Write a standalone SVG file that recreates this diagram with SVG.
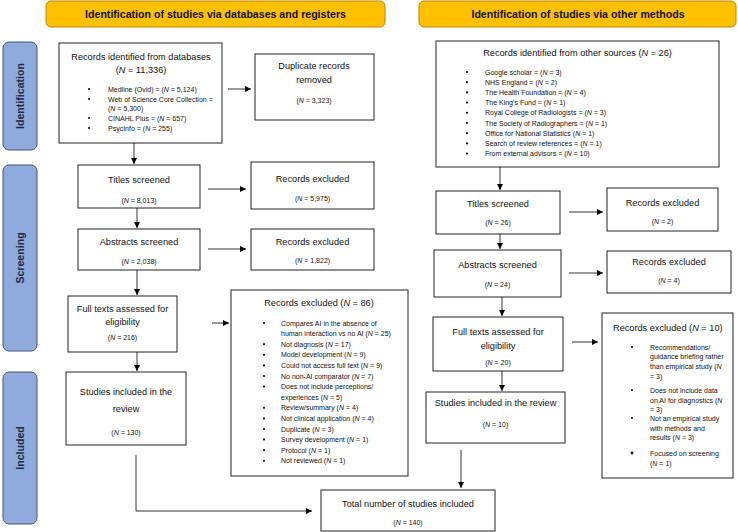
<svg xmlns="http://www.w3.org/2000/svg" width="738" height="532" viewBox="0 0 738 532">
<defs>
<marker id="ah" markerUnits="userSpaceOnUse" markerWidth="7" markerHeight="7" refX="6" refY="3" orient="auto">
<path d="M0,0 L6,3 L0,6 z" fill="#000"/>
</marker>
<style>
.hdr{fill:#FFC000;stroke:#B8860B;stroke-width:1}
.hdrt{font-family:"Liberation Sans",Arial,sans-serif;font-weight:bold;font-size:10.6px;fill:#111;text-anchor:middle}
.ph{fill:#8FAADC;stroke:#44546A;stroke-width:1}
.pht{font-family:"Liberation Sans",Arial,sans-serif;font-weight:bold;font-size:10.6px;fill:#1F2A44;text-anchor:middle}
.box{fill:#fff;stroke:#222;stroke-width:1}
.t{font-family:"Liberation Sans",Arial,sans-serif;font-size:9.2px;fill:#111;text-anchor:middle}
.ts{font-family:"Liberation Sans",Arial,sans-serif;font-size:9.2px;fill:#111}
.s{font-family:"Liberation Sans",Arial,sans-serif;font-size:7px;fill:#111;text-anchor:middle}
.b{font-family:"Liberation Sans",Arial,sans-serif;font-size:7px;fill:#111}
.bul{fill:#111}
.c{stroke:#000;stroke-width:0.8;fill:none}
</style>
</defs>

<g id="header-left"><rect class="hdr" x="46" y="1" width="339" height="26" rx="5"/><text class="hdrt" x="215.5" y="18">Identification of studies via databases and registers</text></g>
<g id="header-right"><rect class="hdr" x="419" y="1" width="317" height="26" rx="5"/><text class="hdrt" x="578" y="18">Identification of studies via other methods</text></g>

<g id="phase-identification"><rect class="ph" x="3" y="42" width="34" height="108" rx="6"/><text class="pht" transform="translate(24,96) rotate(-90)">Identification</text></g>
<g id="phase-screening"><rect class="ph" x="3" y="165" width="34" height="186" rx="6"/><text class="pht" transform="translate(24,258) rotate(-90)">Screening</text></g>
<g id="phase-included"><rect class="ph" x="3" y="372" width="34" height="152" rx="6"/><text class="pht" transform="translate(24,448) rotate(-90)">Included</text></g>

<g id="records-databases"><rect class="box" x="59" y="43" width="163" height="100"/>
<text class="t" x="141" y="59.5">Records identified from databases</text>
<text class="t" x="141" y="72.5">(<tspan font-style="italic">N</tspan> = 11,336)</text>
<g class="bul"><circle cx="89" cy="89" r="1.1"/><circle cx="89" cy="99" r="1.1"/><circle cx="89" cy="118" r="1.1"/><circle cx="89" cy="128" r="1.1"/></g>
<text class="b" x="108" y="91.5">Medline (Ovid) = (<tspan font-style="italic">N</tspan> = 5,124)</text>
<text class="b" x="108" y="101.5">Web of Science Core Collection =</text>
<text class="b" x="108" y="110.5">(<tspan font-style="italic">N</tspan> = 5,300)</text>
<text class="b" x="108" y="120.5">CINAHL Plus = (<tspan font-style="italic">N</tspan> = 657)</text>
<text class="b" x="108" y="130.5">PsycInfo = (<tspan font-style="italic">N</tspan> = 255)</text>
</g>

<g id="duplicates"><rect class="box" x="255" y="54" width="119" height="66"/>
<text class="t" x="314" y="69">Duplicate records</text>
<text class="t" x="314" y="83">removed</text>
<text class="s" x="314" y="103">(<tspan font-style="italic">N</tspan> = 3,323)</text>
</g>

<g id="titles-left"><rect class="box" x="78" y="165" width="122" height="43"/>
<text class="t" x="139" y="183">Titles screened</text>
<text class="s" x="139" y="203">(<tspan font-style="italic">N</tspan> = 8,013)</text>
</g>
<g id="excl-titles-left"><rect class="box" x="251" y="162" width="123" height="47"/>
<text class="t" x="312.5" y="182">Records excluded</text>
<text class="s" x="312.5" y="201">(<tspan font-style="italic">N</tspan> = 5,975)</text>
</g>

<g id="abstracts-left"><rect class="box" x="78" y="229" width="122" height="41"/>
<text class="t" x="139" y="245">Abstracts screened</text>
<text class="s" x="139" y="264">(<tspan font-style="italic">N</tspan> = 2,038)</text>
</g>
<g id="excl-abstracts-left"><rect class="box" x="251" y="229" width="123" height="41"/>
<text class="t" x="312.5" y="245">Records excluded</text>
<text class="s" x="312.5" y="263">(<tspan font-style="italic">N</tspan> = 1,822)</text>
</g>

<g id="fulltext-left"><rect class="box" x="68" y="296" width="109" height="56"/>
<text class="t" x="122.5" y="312">Full texts assessed for</text>
<text class="t" x="122.5" y="325">eligibility</text>
<text class="s" x="122.5" y="340">(<tspan font-style="italic">N</tspan> = 216)</text>
</g>

<g id="excl-fulltext-left"><rect class="box" x="231" y="290" width="177" height="186"/>
<text class="t" x="319" y="306">Records excluded (<tspan font-style="italic">N</tspan> = 86)</text>
<g class="bul"><circle cx="264" cy="323" r="1.1"/><circle cx="264" cy="344.2" r="1.1"/><circle cx="264" cy="354.8" r="1.1"/><circle cx="264" cy="365.4" r="1.1"/><circle cx="264" cy="376" r="1.1"/><circle cx="264" cy="386.6" r="1.1"/><circle cx="264" cy="407.8" r="1.1"/><circle cx="264" cy="418.4" r="1.1"/><circle cx="264" cy="429" r="1.1"/><circle cx="264" cy="439.6" r="1.1"/><circle cx="264" cy="450.2" r="1.1"/><circle cx="264" cy="460.8" r="1.1"/></g>
<text class="b" x="281" y="325.5">Compares AI in the absence of</text>
<text class="b" x="281" y="336.1">human interaction vs no AI (<tspan font-style="italic">N</tspan> = 25)</text>
<text class="b" x="281" y="346.7">Not diagnosis (<tspan font-style="italic">N</tspan> = 17)</text>
<text class="b" x="281" y="357.3">Model development (<tspan font-style="italic">N</tspan> = 9)</text>
<text class="b" x="281" y="367.9">Could not access full text (<tspan font-style="italic">N</tspan> = 9)</text>
<text class="b" x="281" y="378.5">No non-AI comparator (<tspan font-style="italic">N</tspan> = 7)</text>
<text class="b" x="281" y="389.1">Does not include perceptions/</text>
<text class="b" x="281" y="399.7">experiences (<tspan font-style="italic">N</tspan> = 5)</text>
<text class="b" x="281" y="410.3">Review/summary (<tspan font-style="italic">N</tspan> = 4)</text>
<text class="b" x="281" y="420.9">Not clinical application (<tspan font-style="italic">N</tspan> = 4)</text>
<text class="b" x="281" y="431.5">Duplicate (<tspan font-style="italic">N</tspan> = 3)</text>
<text class="b" x="281" y="442.1">Survey development (<tspan font-style="italic">N</tspan> = 1)</text>
<text class="b" x="281" y="452.7">Protocol (<tspan font-style="italic">N</tspan> = 1)</text>
<text class="b" x="281" y="463.3">Not reviewed (<tspan font-style="italic">N</tspan> = 1)</text>
</g>

<g id="included-left"><rect class="box" x="66" y="372" width="120" height="73"/>
<text class="t" x="126" y="395">Studies included in the</text>
<text class="t" x="126" y="412">review</text>
<text class="s" x="126" y="435">(<tspan font-style="italic">N</tspan> = 130)</text>
</g>

<g id="total"><rect class="box" x="321" y="490" width="174" height="41"/>
<text class="t" x="408" y="507">Total number of studies included</text>
<text class="s" x="408" y="525">(<tspan font-style="italic">N</tspan> = 140)</text>
</g>

<g id="records-other"><rect class="box" x="436" y="41" width="283" height="126"/>
<text class="t" x="577.5" y="56">Records identified from other sources (<tspan font-style="italic">N</tspan> = 26)</text>
<g class="bul"><circle cx="467" cy="72" r="1.1"/><circle cx="467" cy="82.2" r="1.1"/><circle cx="467" cy="92.4" r="1.1"/><circle cx="467" cy="102.6" r="1.1"/><circle cx="467" cy="112.8" r="1.1"/><circle cx="467" cy="123" r="1.1"/><circle cx="467" cy="133.2" r="1.1"/><circle cx="467" cy="143.4" r="1.1"/><circle cx="467" cy="153.6" r="1.1"/></g>
<text class="b" x="485" y="74.5">Google scholar = (<tspan font-style="italic">N</tspan> = 3)</text>
<text class="b" x="485" y="84.7">NHS England = (<tspan font-style="italic">N</tspan> = 2)</text>
<text class="b" x="485" y="94.9">The Health Foundation = (<tspan font-style="italic">N</tspan> = 4)</text>
<text class="b" x="485" y="105.1">The King’s Fund = (<tspan font-style="italic">N</tspan> = 1)</text>
<text class="b" x="485" y="115.3">Royal College of Radiologists = (<tspan font-style="italic">N</tspan> = 3)</text>
<text class="b" x="485" y="125.5">The Society of Radiographers = (<tspan font-style="italic">N</tspan> = 1)</text>
<text class="b" x="485" y="135.7">Office for National Statistics (<tspan font-style="italic">N</tspan> = 1)</text>
<text class="b" x="485" y="145.9">Search of review references = (<tspan font-style="italic">N</tspan> = 1)</text>
<text class="b" x="485" y="156.1">From external advisors = (<tspan font-style="italic">N</tspan> = 10)</text>
</g>

<g id="titles-right"><rect class="box" x="436" y="191" width="124" height="43"/>
<text class="t" x="498" y="207">Titles screened</text>
<text class="s" x="498" y="225">(<tspan font-style="italic">N</tspan> = 26)</text>
</g>
<g id="excl-titles-right"><rect class="box" x="607" y="188" width="111" height="43"/>
<text class="t" x="662.5" y="206">Records excluded</text>
<text class="s" x="662.5" y="224">(<tspan font-style="italic">N</tspan> = 2)</text>
</g>

<g id="abstracts-right"><rect class="box" x="434" y="250" width="127" height="47"/>
<text class="t" x="497.5" y="268">Abstracts screened</text>
<text class="s" x="497.5" y="287">(<tspan font-style="italic">N</tspan> = 24)</text>
</g>
<g id="excl-abstracts-right"><rect class="box" x="607" y="251" width="124" height="42"/>
<text class="t" x="669" y="265">Records excluded</text>
<text class="s" x="669" y="283">(<tspan font-style="italic">N</tspan> = 4)</text>
</g>

<g id="fulltext-right"><rect class="box" x="433" y="317" width="130" height="54"/>
<text class="t" x="498" y="335">Full texts assessed for</text>
<text class="t" x="498" y="349">eligibility</text>
<text class="s" x="498" y="365">(<tspan font-style="italic">N</tspan> = 20)</text>
</g>

<g id="excl-fulltext-right"><rect class="box" x="602" y="313" width="131" height="165"/>
<text class="ts" x="613" y="331">Records excluded (<tspan font-style="italic">N</tspan> = 10)</text>
<g class="bul"><circle cx="632" cy="347" r="1.1"/><circle cx="632" cy="390" r="1.1"/><circle cx="632" cy="418" r="1.1"/><circle cx="632" cy="453" r="1.4"/></g>
<text class="b" x="650" y="349.5">Recommendations/</text>
<text class="b" x="650" y="359">guidance briefing rather</text>
<text class="b" x="650" y="368.5">than empirical study (<tspan font-style="italic">N</tspan></text>
<text class="b" x="650" y="378.5">= 3)</text>
<text class="b" x="650" y="392.5">Does not include data</text>
<text class="b" x="650" y="402.5">on AI for diagnostics (<tspan font-style="italic">N</tspan></text>
<text class="b" x="650" y="411.5">= 3)</text>
<text class="b" x="650" y="420.5">Not an empirical study</text>
<text class="b" x="650" y="430.5">with methods and</text>
<text class="b" x="650" y="439.5">results (<tspan font-style="italic">N</tspan> = 3)</text>
<text class="b" x="650" y="455.5">Focused on screening</text>
<text class="b" x="650" y="465.5">(<tspan font-style="italic">N</tspan> = 1)</text>
</g>

<g id="included-right"><rect class="box" x="426" y="392" width="139" height="51"/>
<text class="t" x="495.5" y="405.5">Studies included in the review</text>
<text class="s" x="495.5" y="427">(<tspan font-style="italic">N</tspan> = 10)</text>
</g>

<g id="connectors">
<line class="c" x1="134" y1="143" x2="134" y2="164" marker-end="url(#ah)"/>
<line class="c" x1="228" y1="89" x2="251" y2="89" marker-end="url(#ah)"/>
<line class="c" x1="208" y1="189" x2="246" y2="189" marker-end="url(#ah)"/>
<line class="c" x1="137" y1="208" x2="137" y2="228" marker-end="url(#ah)"/>
<line class="c" x1="208" y1="249" x2="246" y2="249" marker-end="url(#ah)"/>
<line class="c" x1="137" y1="270" x2="137" y2="295" marker-end="url(#ah)"/>
<line class="c" x1="212" y1="323" x2="229" y2="323" marker-end="url(#ah)"/>
<line class="c" x1="137" y1="352" x2="137" y2="371" marker-end="url(#ah)"/>
<polyline class="c" points="136,455 136,511 312,511" marker-end="url(#ah)"/>
<line class="c" x1="500" y1="167" x2="500" y2="190" marker-end="url(#ah)"/>
<line class="c" x1="569" y1="212" x2="603" y2="212" marker-end="url(#ah)"/>
<line class="c" x1="500" y1="234" x2="500" y2="249" marker-end="url(#ah)"/>
<line class="c" x1="569" y1="273" x2="603" y2="273" marker-end="url(#ah)"/>
<line class="c" x1="502" y1="297" x2="502" y2="316" marker-end="url(#ah)"/>
<line class="c" x1="572" y1="342" x2="598" y2="342" marker-end="url(#ah)"/>
<line class="c" x1="502" y1="371" x2="502" y2="391" marker-end="url(#ah)"/>
<line class="c" x1="461" y1="450" x2="461" y2="488" marker-end="url(#ah)"/>
</g>
</svg>
